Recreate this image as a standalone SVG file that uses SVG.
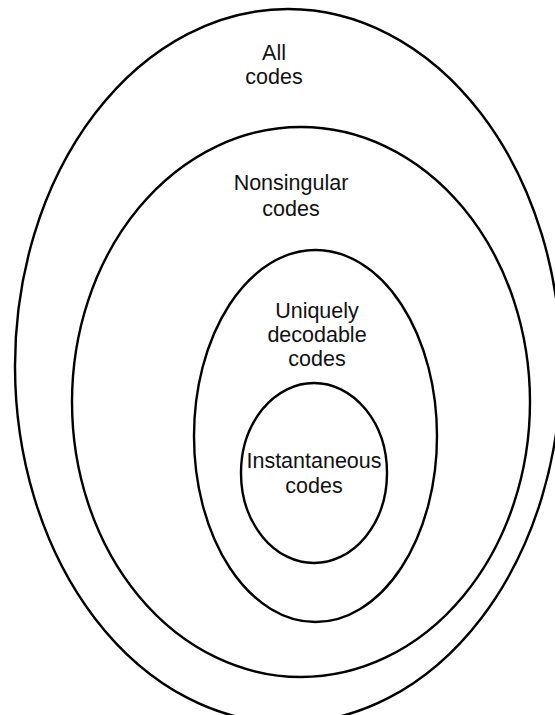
<svg xmlns="http://www.w3.org/2000/svg" width="555" height="715" viewBox="0 0 555 715">
<style>
.set{fill:none;stroke:#000;stroke-width:2.4}
.lbl{font-family:"Liberation Sans",Arial,sans-serif;font-size:21.5px;fill:#111;text-anchor:middle}
</style>
<rect width="555" height="715" fill="#fff"/>
<g id="all-codes">
<ellipse class="set" cx="288" cy="366" rx="273" ry="357"/>
<text class="lbl" x="274" y="60">All</text>
<text class="lbl" x="274" y="84">codes</text>
</g>
<g id="nonsingular-codes">
<ellipse class="set" cx="301" cy="402" rx="229" ry="275"/>
<text class="lbl" x="291" y="190">Nonsingular</text>
<text class="lbl" x="291" y="216">codes</text>
</g>
<g id="uniquely-decodable-codes">
<ellipse class="set" cx="315.5" cy="436" rx="121.5" ry="186"/>
<text class="lbl" x="317" y="318">Uniquely</text>
<text class="lbl" x="317" y="342">decodable</text>
<text class="lbl" x="317" y="366">codes</text>
</g>
<g id="instantaneous-codes">
<ellipse class="set" cx="314" cy="473" rx="73" ry="90"/>
<text class="lbl" x="314" y="468">Instantaneous</text>
<text class="lbl" x="314" y="493">codes</text>
</g>
<g id="connectors"></g>
</svg>
